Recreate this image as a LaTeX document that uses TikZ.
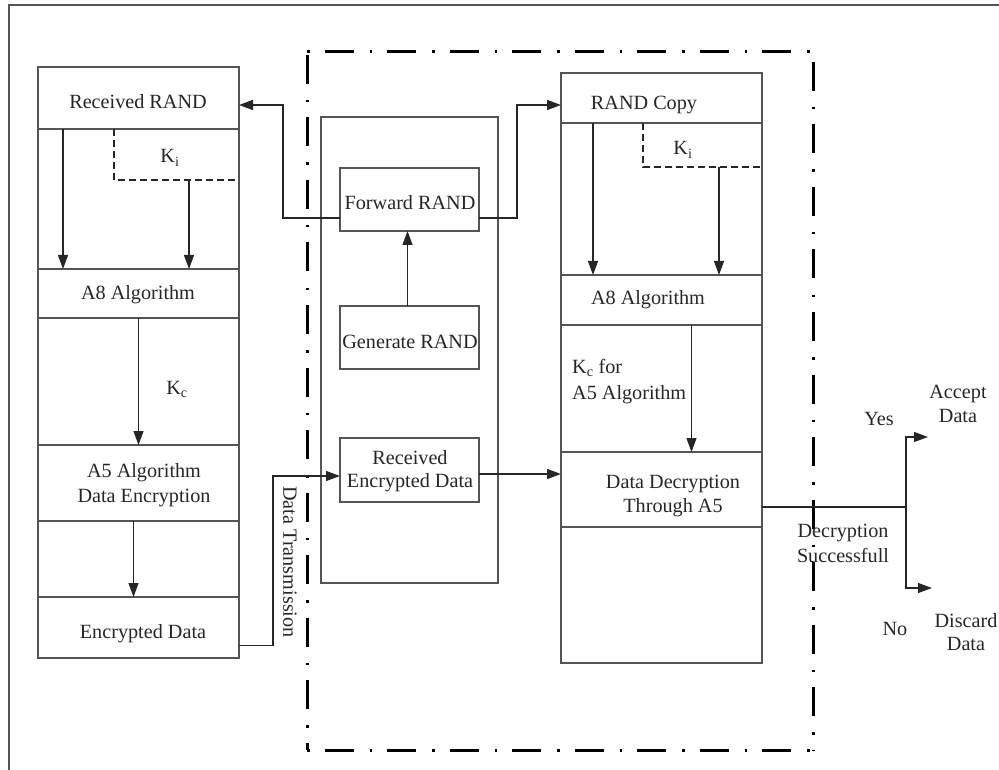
\documentclass[tikz,border=0pt]{standalone}
\usepackage{fontspec}
\setmainfont{Liberation Serif}
\usetikzlibrary{arrows.meta}
\definecolor{boxc}{HTML}{555555}
\definecolor{inkc}{HTML}{262626}
\begin{document}
\begin{tikzpicture}[x=1pt,y=-1pt,
  box/.style={draw=boxc, line width=1.4pt, inner sep=0pt, outer sep=0pt, anchor=north west},
  lbl/.style={text=inkc, inner sep=0pt, font=\fontsize{20.2}{24}\selectfont, anchor=base},
  conn/.style={draw=inkc, line width=1.2pt},
  arr/.style={conn, -{Triangle[length=14pt,width=10pt]}},
  kdash/.style={conn, dash pattern=on 7pt off 4pt},
  dashdot/.style={draw=black, line width=3pt, dash pattern=on 2.5pt off 15pt on 29pt off 16pt},
]
\useasboundingbox (0,0) rectangle (999,770);

% outer frame (top and left edges)
\draw[draw=boxc, line width=2pt] (8.5,770) -- (8.5,5) -- (999,5);

% dash-dot enclosure of the network side
\draw[dashdot] (307,52) -- (813,52);
\draw[dashdot, dash phase=14.5pt] (307,52) -- (307,750);
\draw[dashdot, dash phase=7.5pt] (813,52) -- (813,750);
\draw[dashdot] (307,750) -- (813,750);

% left column: sender
\node[box, minimum width=201pt, minimum height=62pt]  (recvrand) at (38,67)  {};
\node[box, minimum width=201pt, minimum height=140pt] (L2)       at (38,129) {};
\node[box, minimum width=201pt, minimum height=49pt]  (a8L)      at (38,269) {};
\node[box, minimum width=201pt, minimum height=127pt] (L4)       at (38,318) {};
\node[box, minimum width=201pt, minimum height=76pt]  (a5)       at (38,445) {};
\node[box, minimum width=201pt, minimum height=76pt]  (L6)       at (38,521) {};
\node[box, minimum width=201pt, minimum height=61pt]  (encdata)  at (38,597) {};

% middle column
\node[box, minimum width=177pt, minimum height=466pt] (mid)    at (321,117) {};
\node[box, minimum width=139pt, minimum height=63pt]  (fwd)    at (340,168) {};
\node[box, minimum width=139pt, minimum height=63pt]  (gen)    at (340,306) {};
\node[box, minimum width=139pt, minimum height=64pt]  (recenc) at (340,438) {};

% right column: receiver
\node[box, minimum width=201pt, minimum height=50pt]  (randcopy) at (561,73)  {};
\node[box, minimum width=201pt, minimum height=152pt] (R2)       at (561,123) {};
\node[box, minimum width=201pt, minimum height=50pt]  (a8R)      at (561,275) {};
\node[box, minimum width=201pt, minimum height=127pt] (R4)       at (561,325) {};
\node[box, minimum width=201pt, minimum height=75pt]  (decrypt)  at (561,452) {};
\node[box, minimum width=201pt, minimum height=136pt] (R6)       at (561,527) {};

% key boxes (dashed)
\draw[kdash] ([xshift=76pt]recvrand.south west) |- ([yshift=19pt]L2.east);
\draw[kdash] ([xshift=82pt]randcopy.south west) |- ([yshift=32pt]R2.east);
\coordinate (kiL) at (189,180);
\coordinate (kiR) at (719,167);

% connectors
\draw[arr] ([xshift=25pt]recvrand.south west) -- ([xshift=25pt]a8L.north west);
\draw[arr] (kiL) -- (kiL |- a8L.north);
\draw[arr] (a8L.south) -- (a5.north);
\draw[arr] ([xshift=-5pt]a5.south) -- ([xshift=-5pt]encdata.north);

\draw[arr] ([xshift=32pt]randcopy.south west) -- ([xshift=32pt]a8R.north west);
\draw[arr] (kiR) -- (kiR |- a8R.north);
\draw[arr] ([xshift=30pt]a8R.south) -- ([xshift=30pt]decrypt.north);

\draw[arr] ([xshift=-2pt]gen.north) -- ([xshift=-2pt]fwd.south);
\draw[arr] ([yshift=13pt]fwd.south west) -| (283,105) -- ([yshift=-7pt]recvrand.east);
\draw[arr] ([yshift=13pt]fwd.south east) -| (517,105) -- ([yshift=-7pt]randcopy.west);
\draw[arr] ([yshift=-18pt]encdata.east) -| (273,476) -- ([yshift=-6pt]recenc.west);
\draw[arr] ([yshift=-4pt]recenc.east) -- ([yshift=-4pt]recenc.east -| decrypt.west);

\coordinate (split) at (906,507);
\coordinate (acc) at (928,437);
\coordinate (dis) at (932,588);
\draw[conn] ([yshift=-17.5pt]decrypt.east) -- (split);
\draw[arr] (split) |- (acc);
\draw[arr] (split) |- (dis);

% labels
\node[lbl] (t1)  at (138,109) {Received RAND};
\node[lbl] (t2)  at (170,163) {K\textsubscript{i}};
\node[lbl] (t3)  at (138,299) {A8 Algorithm};
\node[lbl] (t4)  at (177,394) {K\textsubscript{c}};
\node[lbl] (t5)  at (144,477) {A5 Algorithm};
\node[lbl] (t6)  at (144,502) {Data Encryption};
\node[lbl] (t7)  at (143,638) {Encrypted Data};
\node[text=inkc, inner sep=0pt, font=\fontsize{20.2}{24}\selectfont, rotate=-90] (t8) at (290,562) {Data Transmission};

\node[lbl] (t9)  at (410,210) {Forward RAND};
\node[lbl] (t10) at (410,348) {Generate RAND};
\node[lbl] (t11) at (410,464) {Received};
\node[lbl] (t12) at (410,487) {Encrypted Data};

\node[lbl] (t13) at (644,110) {RAND Copy};
\node[lbl] (t14) at (683,155) {K\textsubscript{i}};
\node[lbl] (t15) at (648,305) {A8 Algorithm};
\node[lbl, anchor=base west] (t16) at (572,373) {K\textsubscript{c} for};
\node[lbl, anchor=base west] (t17) at (572,399) {A5 Algorithm};
\node[lbl] (t18) at (673,488) {Data Decryption};
\node[lbl] (t19) at (673,512) {Through A5};

\node[lbl] (t20) at (879,425) {Yes};
\node[lbl] (t21) at (958,398) {Accept};
\node[lbl] (t22) at (958,422) {Data};
\node[lbl] (t23) at (843,537) {Decryption};
\node[lbl] (t24) at (843,562) {Successfull};
\node[lbl] (t25) at (895,635) {No};
\node[lbl] (t26) at (966,627) {Discard};
\node[lbl] (t27) at (966,650) {Data};
\end{tikzpicture}
\end{document}
